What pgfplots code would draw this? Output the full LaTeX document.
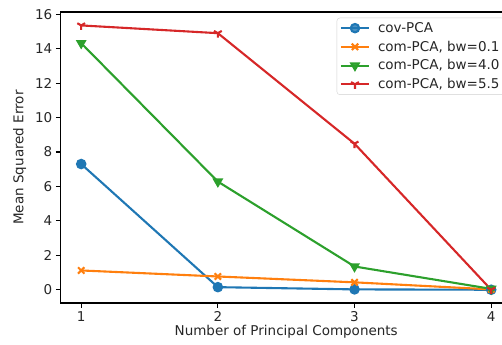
\documentclass[border=0pt]{standalone}
\usepackage{fontspec}
\setmainfont{DejaVu Sans}
\usepackage{pgfplots}
\pgfplotsset{compat=1.18}
\definecolor{c0}{HTML}{1F77B4}
\definecolor{c1}{HTML}{FF7F0E}
\definecolor{c2}{HTML}{2CA02C}
\definecolor{c3}{HTML}{D62728}
\begin{document}
\begin{tikzpicture}
\begin{axis}[
  name=ax,
  scale only axis,
  width=451pt, height=291pt,
  xmin=0.85, xmax=4.15,
  ymin=-0.77, ymax=16.13,
  xtick={1,2,3,4},
  ytick={0,2,4,6,8,10,12,14,16},
  tick align=outside,
  tick pos=left,
  major tick length=4.9pt,
  every tick/.style={black, line width=1.1pt},
  axis line style={line width=1.1pt},
  tick label style={font=\fontsize{13.5}{16}\selectfont, text=black!85},
  /pgf/number format/assume math mode=true,
  xlabel={Number of Principal Components},
  ylabel={Mean Squared Error},
  label style={font=\fontsize{13.5}{16}\selectfont, text=black!85},
  xlabel style={yshift=3pt},
  ylabel style={yshift=2pt},
  legend style={at={(0.9845,0.9804)}, anchor=north east,
    draw=black!18, rounded corners=3pt, fill=white, fill opacity=0.8, text opacity=1,
    font=\fontsize{13.5}{16}\selectfont, text=black!85,
    inner xsep=3pt, inner ysep=2.5pt, row sep=3pt},
  legend cell align=left,
  legend image code/.code={\draw[mark repeat=2,mark phase=2] plot coordinates {(0cm,0cm) (14pt,0cm) (28pt,0cm)}; \path (0pt,0pt) (34pt,0pt);},
  every axis plot/.append style={line width=2.1pt, mark size=4.2pt},
]
\addplot[c0, mark=*, mark options={solid}] coordinates {(1,7.3) (2,0.15) (3,0.02) (4,0.0)};
\addlegendentry{cov-PCA}
\addplot[c1, mark=x, mark size=4.5pt] coordinates {(1,1.12) (2,0.77) (3,0.43) (4,0.02)};
\addlegendentry{com-PCA, bw=0.1}
\addplot[c2, mark=triangle*, mark options={rotate=180}] coordinates {(1,14.32) (2,6.28) (3,1.35) (4,0.05)};
\addlegendentry{com-PCA, bw=4.0}
\addplot[c3, mark=Mercedes star flipped, mark size=4.5pt] coordinates {(1,15.35) (2,14.9) (3,8.48) (4,0.0)};
\addlegendentry{com-PCA, bw=5.5}
\end{axis}
\pgfresetboundingbox
\useasboundingbox ([xshift=-60.7pt,yshift=-41.7pt]ax.south west) rectangle ([xshift=441.3pt,yshift=12pt]ax.north west);
\end{tikzpicture}
\end{document}
